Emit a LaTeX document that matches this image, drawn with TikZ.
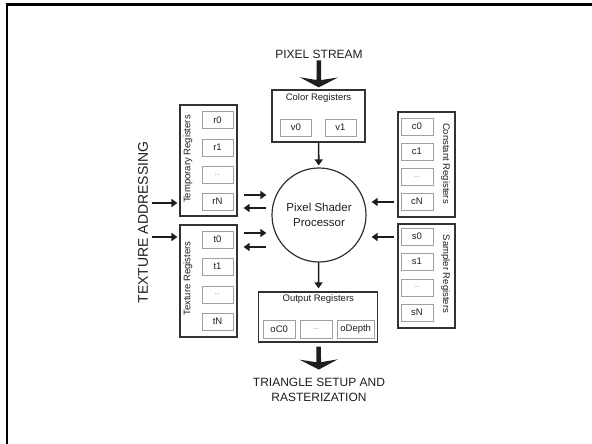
\documentclass[tikz,border=0pt]{standalone}
\usepackage{fontspec}
\setmainfont{Liberation Sans}
\usetikzlibrary{positioning,arrows.meta}
\definecolor{ink}{RGB}{30,30,30}
\definecolor{edge}{RGB}{50,50,50}
\definecolor{cellline}{RGB}{160,160,160}
\definecolor{dots}{RGB}{130,130,130}
\newcommand{\regfont}{\fontsize{9.5}{11}\selectfont}

\begin{document}
\begin{tikzpicture}[x=1pt, y=-1pt,
    bank/.style={draw=edge, line width=1.2pt, inner sep=0pt},
    cell/.style={draw=cellline, line width=0.9pt, minimum width=31pt, minimum height=17pt,
      inner sep=0pt, font=\regfont, text=ink},
    dotcell/.style={cell, text=dots, font=\fontsize{7}{8}\selectfont},
    title/.style={font=\regfont, text=ink, inner sep=0pt},
    caps/.style={font=\fontsize{12}{15}\selectfont, text=ink, align=center, inner sep=1pt},
    arr/.style={-{Triangle[length=6pt,width=8pt]}, line width=1.6pt, ink},
    bigarr/.style={-{Stealth[length=10pt,width=38pt,inset=3pt]}, line width=4.6pt, ink}]
  \useasboundingbox (0,0) rectangle (592,444);
  % slide frame, only its top and left edges fall inside
  \draw[line width=2.4pt] (7.2,444) -- (7.2,4.5) -- (592,4.5);

  % processor in the middle
  \node[circle, draw=edge, line width=1.2pt, minimum size=94pt, inner sep=0pt,
    align=center, font=\fontsize{11.5}{15}\selectfont, text=ink] (ps) at (319,215)
    {Pixel Shader\\Processor};

  % color registers (top)
  \node[bank, minimum width=93pt, minimum height=52pt] (color) at (318.5,116) {};
  \node[title] (colort) at (318.5,98.5) {Color Registers};
  \node[cell] (v0) at (296,127.5) {v0};
  \node[cell] (v1) at (340.5,127.5) {v1};

  % output registers (bottom)
  \node[bank, minimum width=119pt, minimum height=50pt] (out) at (318.3,317) {};
  \node[title] (outt) at (318.3,299.5) {Output Registers};
  \node[cell, minimum width=31.5pt, minimum height=18pt] (oc0) at (279.2,329) {oC0};
  \node[dotcell, minimum width=32pt, minimum height=18pt] (od) at (316,329) {...};
  \node[cell, minimum width=37.5pt, minimum height=18pt] (odepth) at (355.7,329) {oDepth};

  % temporary registers (left, upper)
  \node[bank, minimum width=57pt, minimum height=111pt] (temp) at (208.5,160.5) {};
  \node[title, rotate=90] (tempt) at (188,159) {Temporary Registers};
  \node[cell] (r0) at (217.5,120) {r0};
  \node[cell] (r1) at (217.5,147.5) {r1};
  \node[dotcell] (rd) at (217.5,175) {...};
  \node[cell] (rn) at (217.5,201.5) {rN};

  % texture registers (left, lower)
  \node[bank, minimum width=57pt, minimum height=112pt] (tex) at (208.5,281) {};
  \node[title, rotate=90] (text) at (188,278.5) {Texture Registers};
  \node[cell] (t0) at (217.5,239.5) {t0};
  \node[cell] (t1) at (217.5,266.5) {t1};
  \node[dotcell] (td) at (217.5,294.5) {...};
  \node[cell] (tn) at (217.5,321.5) {tN};

  % constant registers (right, upper)
  \node[bank, minimum width=57pt, minimum height=105pt] (const) at (426.5,164.5) {};
  \node[title, rotate=-90] (constt) at (445.5,163.5) {Constant Registers};
  \node[cell, minimum width=32pt] (c0) at (417,126.5) {c0};
  \node[cell, minimum width=32pt] (c1) at (417,151.5) {c1};
  \node[dotcell, minimum width=32pt] (cd) at (417,177) {...};
  \node[cell, minimum width=32pt] (cn) at (417,201.5) {cN};

  % sampler registers (right, lower)
  \node[bank, minimum width=57pt, minimum height=104pt] (samp) at (426.5,276) {};
  \node[title, rotate=-90] (sampt) at (445.5,274) {Sampler Registers};
  \node[cell, minimum width=32pt] (s0) at (417,236.5) {s0};
  \node[cell, minimum width=32pt] (s1) at (417,261.5) {s1};
  \node[dotcell, minimum width=32pt] (sd) at (417,287.5) {...};
  \node[cell, minimum width=32pt] (sn) at (417,312.5) {sN};

  % outside labels
  \node[caps] (stream) at (319,54) {PIXEL STREAM};
  \node[caps] (tri) at (319,389.5) {TRIANGLE SETUP AND\\RASTERIZATION};
  \node[caps, rotate=90, font=\fontsize{14}{16}\selectfont] (texaddr) at (143,222.5)
    {TEXTURE ADDRESSING};

  % big flow arrows
  \draw[bigarr, shorten <=1pt, shorten >=2pt] (stream) -- (color);
  \draw[bigarr, shorten <=4pt, shorten >=7pt] (out) -- (tri);

  % thin arrows
  \draw[arr, shorten >=2pt] (color) -- (ps);
  \draw[arr, shorten >=3pt] (ps) -- (out);
  \draw[arr] ([xshift=3pt,yshift=19.5pt]texaddr.south) -- ([xshift=-2pt,yshift=-42.5pt]temp.west);
  \draw[arr] ([xshift=3pt,yshift=-14.5pt]texaddr.south) -- ([xshift=-2pt,yshift=44pt]tex.west);
  \draw[arr] ([xshift=6pt,yshift=-34.5pt]temp.east) -- ([xshift=-5pt,yshift=20pt]ps.west);
  \draw[arr] ([xshift=-5pt,yshift=7pt]ps.west) -- ([xshift=6pt,yshift=-47.5pt]temp.east);
  \draw[arr] ([xshift=6pt,yshift=48pt]tex.east) -- ([xshift=-5pt,yshift=-18pt]ps.west);
  \draw[arr] ([xshift=-5pt,yshift=-32pt]ps.west) -- ([xshift=6pt,yshift=34pt]tex.east);
  \draw[arr] ([xshift=-3pt,yshift=-37.5pt]const.west) -- ([xshift=5pt,yshift=13pt]ps.east);
  \draw[arr] ([xshift=-3pt,yshift=39pt]samp.west) -- ([xshift=5pt,yshift=-22pt]ps.east);
\end{tikzpicture}
\end{document}
